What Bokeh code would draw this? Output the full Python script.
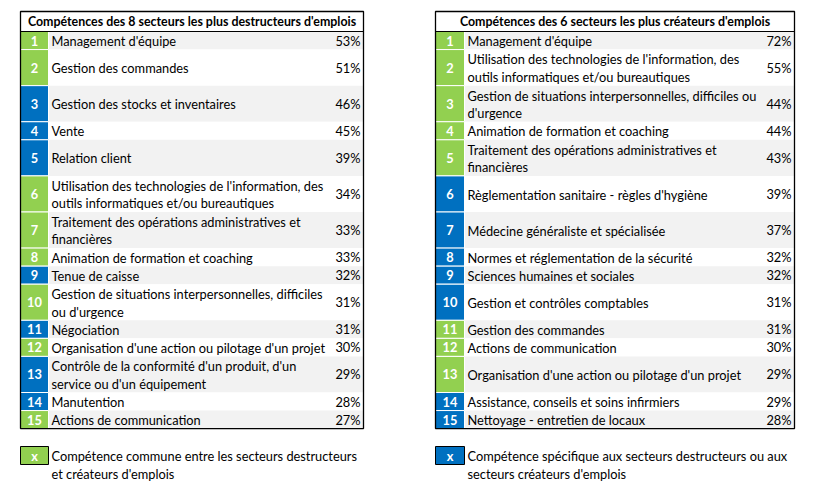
from bokeh.plotting import figure
from bokeh.models import ColumnDataSource, Range1d
from bokeh.core.properties import value
from bokeh.embed import file_html
from bokeh.resources import INLINE

# ---------------- data ----------------
left_title = "Compétences des 8 secteurs les plus destructeurs d'emplois"
left_labels = [
    "Management d'équipe",
    "Gestion des commandes",
    "Gestion des stocks et inventaires",
    "Vente",
    "Relation client",
    "Utilisation des technologies de l'information, des\noutils informatiques et/ou bureautiques",
    "Traitement des opérations administratives et\nfinancières",
    "Animation de formation et coaching",
    "Tenue de caisse",
    "Gestion de situations interpersonnelles, difficiles\nou d'urgence",
    "Négociation",
    "Organisation d'une action ou pilotage d'un projet",
    "Contrôle de la conformité d'un produit, d'un\nservice ou d'un équipement",
    "Manutention",
    "Actions de communication",
]
left_values = [53, 51, 46, 45, 39, 34, 33, 33, 32, 31, 31, 30, 29, 28, 27]
left_common = [1, 1, 0, 0, 0, 1, 1, 1, 0, 1, 0, 1, 0, 0, 1]
left_row_units = [1, 2, 2, 1, 2, 2, 2, 1, 1, 2, 1, 1, 2, 1, 1]

right_title = "Compétences des 6 secteurs les plus créateurs d'emplois"
right_labels = [
    "Management d'équipe",
    "Utilisation des technologies de l'information, des\noutils informatiques et/ou bureautiques",
    "Gestion de situations interpersonnelles, difficiles ou\nd'urgence",
    "Animation de formation et coaching",
    "Traitement des opérations administratives et\nfinancières",
    "Règlementation sanitaire - règles d'hygiène",
    "Médecine généraliste et spécialisée",
    "Normes et réglementation de la sécurité",
    "Sciences humaines et sociales",
    "Gestion et contrôles comptables",
    "Gestion des commandes",
    "Actions de communication",
    "Organisation d'une action ou pilotage d'un projet",
    "Assistance, conseils et soins infirmiers",
    "Nettoyage - entretien de locaux",
]
right_values = [72, 55, 44, 44, 43, 39, 37, 32, 32, 31, 31, 30, 29, 29, 28]
right_common = [1, 1, 1, 1, 1, 0, 0, 0, 0, 0, 1, 1, 1, 0, 0]
right_row_units = [1, 2, 2, 1, 2, 2, 2, 1, 1, 2, 1, 1, 2, 1, 1]

legend_common = "Compétence commune entre les secteurs destructeurs\net créateurs d'emplois"
legend_specific = "Compétence spécifique aux secteurs destructeurs ou aux\nsecteurs créateurs d'emplois"

# ---------------- style ----------------
GREEN = "#92d050"
BLUE = "#0070c0"
GRAY = "#f2f2f2"
FONT = "Lato"
FS = "12.8px"
FS_HEAD = "12.4px"
LINE_STEP = 17.6

W, H = 810, 490
p = figure(width=W, height=H, x_range=Range1d(0, W), y_range=Range1d(H, 0),
           output_backend="svg", toolbar_location=None, min_border=0)
p.axis.visible = False
p.grid.visible = False
p.outline_line_color = None
p.background_fill_color = "white"


def split_lines(labels, mids):
    xs_text, ys = [], []
    for lab, m in zip(labels, mids):
        parts = lab.split("\n")
        k = len(parts)
        for i, part in enumerate(parts):
            xs_text.append(part)
            ys.append(m + 0.6 + (i - (k - 1) / 2) * LINE_STEP)
    return xs_text, ys


def draw_table(x0, x1, num_w, title, labels, values, common, units):
    top = 11
    head_h = 20
    unit = 18.05
    tops, bottoms = [], []
    y = top + head_h
    for u in units:
        tops.append(y)
        y += u * unit
        bottoms.append(y)
    n = len(labels)
    ranks = list(range(1, n + 1))
    mids = [(a + b) / 2 for a, b in zip(tops, bottoms)]
    src = ColumnDataSource(dict(
        top=tops, bottom=bottoms, mid=mids,
        rank=[str(r) for r in ranks],
        pct=[f"{v}%" for v in values],
        fill=[GRAY if r % 2 == 1 else "white" for r in ranks],
        numfill=[GREEN if c else BLUE for c in common],
    ))
    p.quad(left=x0 + num_w, right=x1, top="top", bottom="bottom", fill_color="fill",
           line_color=None, source=src)
    p.quad(left=x0, right=x0 + num_w, top="top", bottom="bottom", fill_color="numfill",
           line_color="white", line_width=1, source=src)
    p.text(x=x0 + num_w / 2, y="mid", text="rank", source=src, text_align="center",
           text_baseline="middle", text_color="white", text_font_style="bold",
           text_font=value(FONT), text_font_size=FS)
    line_txt, line_y = split_lines(labels, mids)
    p.text(x=[x0 + num_w + 3] * len(line_txt), y=line_y, text=line_txt, text_align="left",
           text_baseline="middle", text_color="black", text_font=value(FONT),
           text_font_size=FS)
    p.text(x=x1 - 3, y="mid", text="pct", source=src, text_align="right",
           text_baseline="middle", text_color="black", text_font=value(FONT),
           text_font_size=FS)
    # header
    p.text(x=[(x0 + x1) / 2], y=[top + head_h / 2], text=[title], text_align="center",
           text_baseline="middle", text_color="black", text_font_style="bold",
           text_font=value(FONT), text_font_size=FS_HEAD)
    p.segment(x0=[x0], x1=[x1], y0=[top + head_h], y1=[top + head_h],
              line_color="black", line_width=1)
    p.quad(left=[x0], right=[x1], top=[top], bottom=[bottoms[-1]], fill_color=None,
           line_color="black", line_width=1.3)


def draw_legend(x0, num_w, color, label):
    top, bot = 446, 464
    p.quad(left=[x0], right=[x0 + num_w], top=[top], bottom=[bot], fill_color=color,
           line_color="black", line_width=1)
    p.text(x=[x0 + num_w / 2], y=[(top + bot) / 2], text=["x"], text_align="center",
           text_baseline="middle", text_color="white", text_font_style="bold",
           text_font=value(FONT), text_font_size=FS)
    line_txt, line_y = split_lines([label], [(top + bot) / 2 + LINE_STEP / 2])
    p.text(x=[x0 + num_w + 3] * len(line_txt), y=line_y, text=line_txt, text_align="left",
           text_baseline="middle", text_color="black", text_font=value(FONT),
           text_font_size=FS)


draw_table(20, 363, 28, left_title, left_labels, left_values, left_common, left_row_units)
draw_table(435, 794, 29, right_title, right_labels, right_values, right_common, right_row_units)
draw_legend(20, 28, GREEN, legend_common)
draw_legend(435, 29, BLUE, legend_specific)

open("out.html", "w").write(file_html(p, INLINE))
